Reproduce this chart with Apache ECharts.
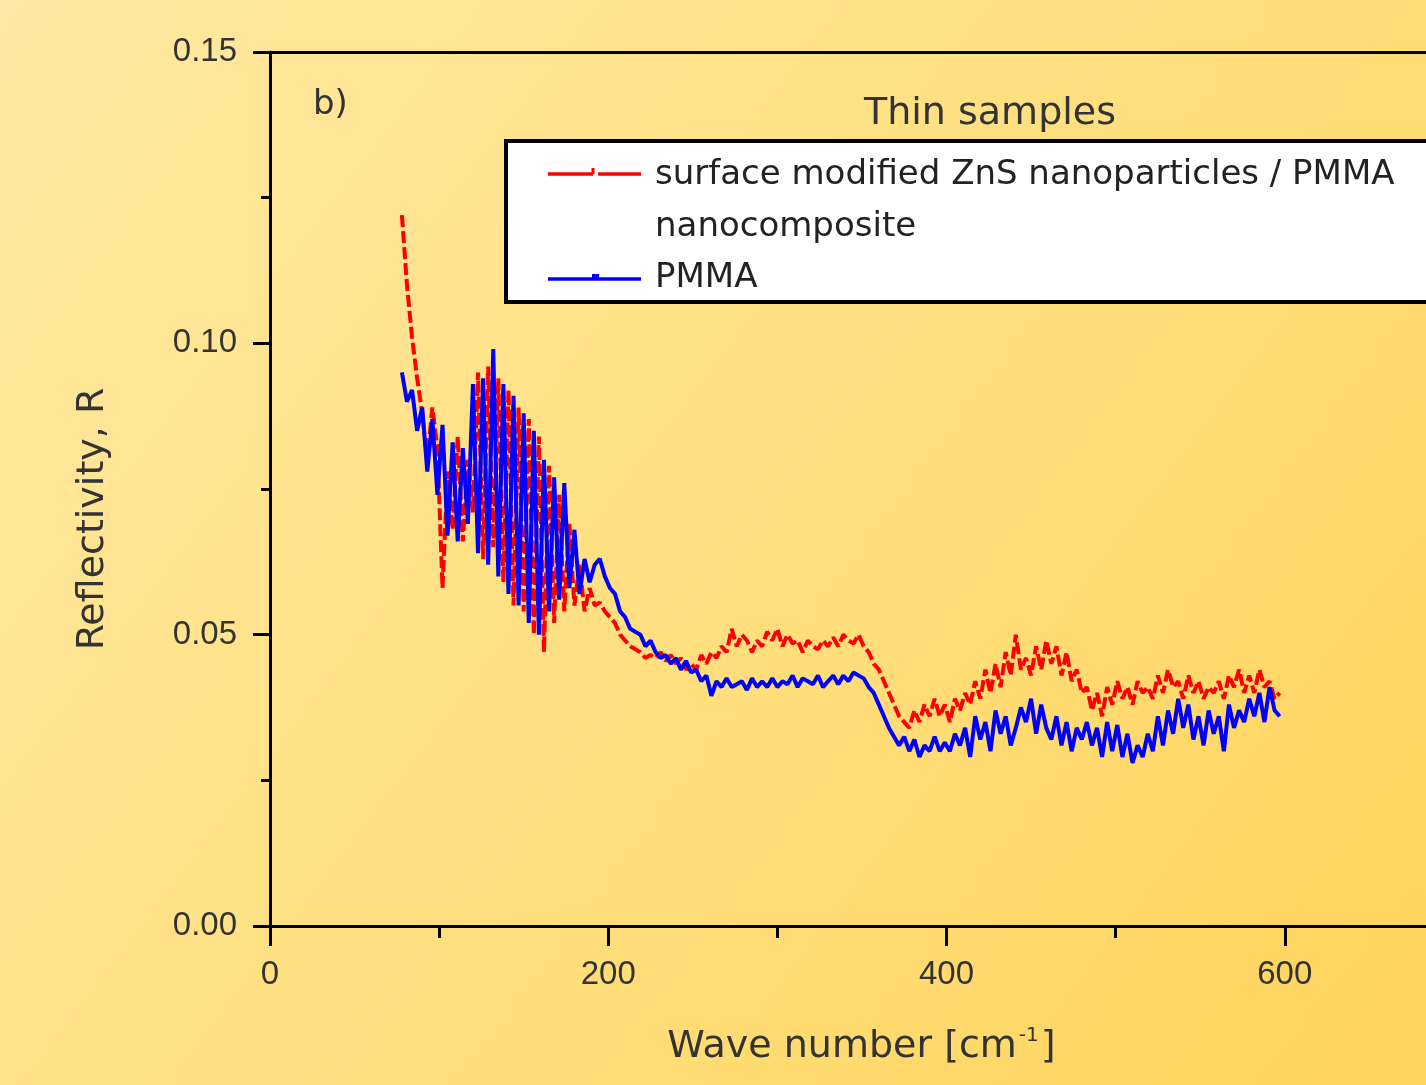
<!DOCTYPE html>
<html>
<head>
<meta charset="utf-8">
<script src="https://cdn.jsdelivr.net/npm/echarts@6/dist/echarts.min.js"></script>
<style>
html,body{margin:0;padding:0;}
#chart{width:1426px;height:1085px;}
</style>
</head>
<body>
<div id="chart"></div>
<script>
// Wave number grid [cm^-1]
const waveNumbers = [78,81,84,87,90,93,96,99,102,105,108,111,114,117,120,123,126,129,132,135,138,141,144,147,150,153,156,159,162,165,168,171,174,177,180,183,186,189,192,195,198,201,204,207,210,213,216,219,222,225,228,231,234,237,240,243,246,249,252,255,258,261,264,267,270,273,276,279,282,285,288,291,294,297,300,303,306,309,312,315,318,321,324,327,330,333,336,339,342,345,348,351,354,357,360,363,366,369,372,375,378,381,384,387,390,393,396,399,402,405,408,411,414,417,420,423,426,429,432,435,438,441,444,447,450,453,456,459,462,465,468,471,474,477,480,483,486,489,492,495,498,501,504,507,510,513,516,519,522,525,528,531,534,537,540,543,546,549,552,555,558,561,564,567,570,573,576,579,582,585,588,591,594,597];

// Reflectivity: surface modified ZnS nanoparticles / PMMA nanocomposite
const compositeR = [0.122,0.110,0.101,0.094,0.088,0.080,0.089,0.082,0.058,0.078,0.068,0.084,0.066,0.080,0.071,0.095,0.063,0.096,0.065,0.094,0.059,0.092,0.055,0.089,0.054,0.087,0.050,0.084,0.047,0.079,0.052,0.074,0.054,0.069,0.055,0.062,0.054,0.058,0.055,0.0555,0.054,0.053,0.052,0.050,0.049,0.048,0.0475,0.047,0.046,0.0465,0.046,0.047,0.0455,0.0465,0.045,0.046,0.044,0.045,0.044,0.0465,0.045,0.047,0.046,0.048,0.047,0.051,0.048,0.050,0.049,0.047,0.049,0.048,0.0505,0.049,0.051,0.048,0.050,0.0485,0.049,0.047,0.049,0.048,0.0475,0.049,0.048,0.0495,0.048,0.050,0.049,0.0485,0.050,0.048,0.047,0.045,0.044,0.042,0.040,0.038,0.036,0.035,0.034,0.037,0.035,0.038,0.036,0.039,0.036,0.038,0.035,0.039,0.037,0.040,0.038,0.042,0.039,0.044,0.040,0.045,0.041,0.047,0.043,0.050,0.044,0.046,0.043,0.048,0.044,0.049,0.045,0.048,0.043,0.047,0.042,0.044,0.040,0.041,0.037,0.040,0.036,0.041,0.038,0.042,0.039,0.041,0.038,0.042,0.040,0.041,0.039,0.043,0.040,0.044,0.041,0.042,0.039,0.043,0.040,0.042,0.039,0.041,0.040,0.042,0.039,0.043,0.041,0.044,0.040,0.043,0.040,0.044,0.041,0.042,0.039,0.040];

// Reflectivity: PMMA
const pmmaR = [0.095,0.090,0.092,0.085,0.089,0.078,0.087,0.074,0.086,0.067,0.083,0.066,0.082,0.069,0.093,0.064,0.094,0.062,0.099,0.060,0.093,0.057,0.091,0.055,0.088,0.052,0.085,0.050,0.080,0.054,0.077,0.056,0.076,0.058,0.068,0.057,0.063,0.059,0.062,0.063,0.060,0.058,0.057,0.054,0.053,0.051,0.0505,0.050,0.048,0.049,0.047,0.046,0.0465,0.045,0.046,0.044,0.0455,0.0435,0.044,0.042,0.043,0.0395,0.042,0.041,0.0425,0.041,0.0415,0.042,0.0405,0.0425,0.041,0.042,0.041,0.0425,0.041,0.042,0.0415,0.043,0.041,0.0425,0.042,0.0415,0.043,0.041,0.042,0.043,0.0415,0.043,0.042,0.0435,0.043,0.0425,0.041,0.040,0.038,0.036,0.034,0.0325,0.031,0.0325,0.030,0.032,0.029,0.031,0.030,0.0325,0.030,0.0315,0.030,0.033,0.031,0.034,0.029,0.036,0.032,0.035,0.030,0.037,0.033,0.036,0.031,0.034,0.0375,0.035,0.039,0.033,0.038,0.034,0.032,0.036,0.031,0.035,0.030,0.034,0.032,0.035,0.031,0.034,0.029,0.035,0.030,0.0345,0.029,0.033,0.028,0.031,0.029,0.033,0.030,0.036,0.031,0.037,0.033,0.039,0.034,0.038,0.032,0.036,0.031,0.037,0.033,0.036,0.030,0.038,0.034,0.037,0.035,0.039,0.036,0.040,0.035,0.041,0.037,0.036];

const seriesNames = ['surface modified ZnS nanoparticles / PMMA\nnanocomposite', 'PMMA'];
const yTicks = ['0.00', '0.05', '0.10', '0.15'];

const chart = echarts.init(document.getElementById('chart'), null, {renderer: 'canvas'});

const labelFont = '"Liberation Sans", Arial, sans-serif';
const textFont = '"DejaVu Sans", "Liberation Sans", sans-serif';

const option = {
  animation: false,
  backgroundColor: {
    type: 'linear', x: 0, y: 0, x2: 1, y2: 1,
    colorStops: [
      {offset: 0, color: '#FFE9A3'},
      {offset: 0.5, color: '#FFE080'},
      {offset: 1, color: '#FFD35C'}
    ]
  },
  grid: {left: 270, top: 52, width: 1353, height: 874, containLabel: false, outerBoundsMode: 'none'},
  xAxis: [{
    type: 'value', min: 0, max: 800, interval: 200,
    name: 'Wave number [cm{sup|-1}]',
    nameLocation: 'middle', nameGap: 100,
    nameTextStyle: {
      fontFamily: textFont, fontSize: 38, color: '#333',
      padding: [0, 170, 0, 0],
      rich: {sup: {fontFamily: textFont, fontSize: 20, color: '#333', verticalAlign: 'top', padding: [0, 2, 22, 2]}}
    },
    axisLine: {show: true, onZero: false, lineStyle: {color: '#000', width: 3}},
    axisTick: {show: true, inside: false, length: 20, lineStyle: {color: '#000', width: 3}},
    minorTick: {show: true, splitNumber: 2, length: 12, lineStyle: {color: '#000', width: 3}},
    splitLine: {show: false},
    axisLabel: {fontFamily: labelFont, fontSize: 33, color: '#333', margin: 32}
  }, {
    type: 'value', min: 0, max: 800, position: 'top',
    axisLine: {show: true, onZero: false, lineStyle: {color: '#000', width: 3}},
    axisTick: {show: false}, axisLabel: {show: false}, splitLine: {show: false}
  }],
  yAxis: {
    type: 'value', min: 0, max: 0.15, interval: 0.05,
    name: 'Reflectivity, R',
    nameLocation: 'middle', nameGap: 158, nameRotate: 90,
    nameTextStyle: {fontFamily: textFont, fontSize: 38, color: '#333', padding: [0, 60, 0, 0]},
    axisLine: {show: true, onZero: false, lineStyle: {color: '#000', width: 3}},
    axisTick: {show: true, inside: false, length: 17, lineStyle: {color: '#000', width: 3}},
    minorTick: {show: true, splitNumber: 2, length: 9, lineStyle: {color: '#000', width: 3}},
    splitLine: {show: false},
    axisLabel: {
      fontFamily: labelFont, fontSize: 33, color: '#333', margin: 33,
      formatter: function (v) { return yTicks[Math.round(v / 0.05)]; }
    }
  },
  series: [{
    name: seriesNames[0], type: 'line', xAxisIndex: 0,
    data: waveNumbers.map((x, i) => [x, compositeR[i]]),
    showSymbol: false, clip: false,
    lineStyle: {color: '#FF0000', width: 4, type: [12, 4]},
    itemStyle: {color: '#FF0000'}
  }, {
    name: seriesNames[1], type: 'line', xAxisIndex: 0,
    data: waveNumbers.map((x, i) => [x, pmmaR[i]]),
    showSymbol: false, clip: false,
    lineStyle: {color: '#0000FF', width: 4},
    itemStyle: {color: '#0000FF'}
  }],
  graphic: [
    {type: 'text', left: 313, top: 88, style: {text: 'b)', font: '34px ' + textFont, fill: '#333'}},
    {type: 'text', x: 990, y: 114, style: {text: 'Thin samples', font: '38px ' + textFont, fill: '#333', align: 'center', verticalAlign: 'middle'}},
    {type: 'rect', shape: {x: 506, y: 141, width: 960, height: 161}, style: {fill: '#FFFFFF', stroke: '#000', lineWidth: 4}, z: 10},
    {type: 'line', shape: {x1: 548, y1: 174, x2: 593, y2: 174}, style: {stroke: '#FF0000', lineWidth: 3.5}, z: 11},
    {type: 'line', shape: {x1: 593, y1: 174, x2: 593, y2: 168}, style: {stroke: '#FF0000', lineWidth: 3}, z: 11},
    {type: 'line', shape: {x1: 598, y1: 174, x2: 641, y2: 174}, style: {stroke: '#FF0000', lineWidth: 3.5}, z: 11},
    {type: 'line', shape: {x1: 548, y1: 279, x2: 641, y2: 279}, style: {stroke: '#0000FF', lineWidth: 3.5}, z: 11},
    {type: 'rect', shape: {x: 592, y: 274, width: 7, height: 4}, style: {fill: '#0000FF'}, z: 11},
    {type: 'text', x: 655, y: 175, style: {text: 'surface modified ZnS nanoparticles / PMMA', font: '34px ' + textFont, fill: '#222', verticalAlign: 'middle'}, z: 11},
    {type: 'text', x: 655, y: 227, style: {text: 'nanocomposite', font: '34px ' + textFont, fill: '#222', verticalAlign: 'middle'}, z: 11},
    {type: 'text', x: 655, y: 278, style: {text: 'PMMA', font: '34px ' + textFont, fill: '#222', verticalAlign: 'middle'}, z: 11}
  ]
};
chart.setOption(option);
</script>
</body>
</html>
